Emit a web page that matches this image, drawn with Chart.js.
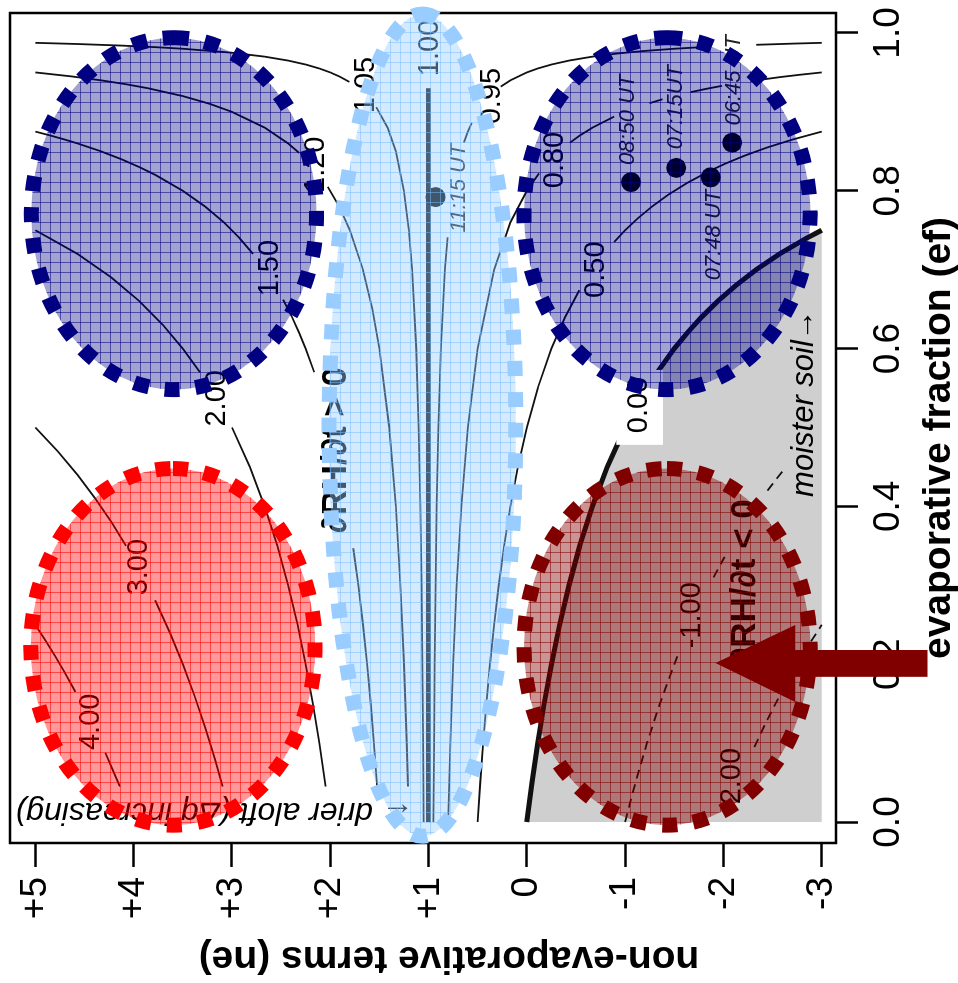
<!DOCTYPE html>
<html><head><meta charset="utf-8">
<script src="https://cdn.jsdelivr.net/npm/chart.js@4.4.1/dist/chart.umd.min.js"></script>
<style>
html,body{margin:0;padding:0;background:#fff;overflow:hidden;width:958px;height:983px;}
#wrap{position:absolute;left:0;top:0;width:983px;height:958px;transform-origin:0 0;transform:translate(0px,983px) rotate(-90deg);}
</style></head><body>
<div id="wrap"><canvas id="c" width="983" height="958"></canvas></div>
<script>
// ---------- axes ----------
const efTickValues = [0, 0.2, 0.4, 0.6, 0.8, 1.0];
const efTickLabels = ['0.0', '0.2', '0.4', '0.6', '0.8', '1.0'];
const neTickValues = [5, 4, 3, 2, 1, 0, -1, -2, -3];
const neTickLabels = ['+5', '+4', '+3', '+2', '+1', '0', '-1', '-2', '-3'];
const efTitle = 'evaporative fraction (ef)';
const neTitle = 'non-evaporative terms (ne)';

// ---------- contour lines: [ef, ne] pairs, null = label gap ----------
const contour_4_00 = [[0.25,5.0],[0.23,4.896],[0.21,4.797],[0.19,4.704],[0.165,4.593],null,[0.088,4.289],[0.07,4.226],[0.045,4.141]];
const contour_3_00 = [[0.5,5.0],[0.47,4.774],[0.44,4.571],[0.41,4.39],[0.38,4.226],[0.35,4.077],null,[0.281,3.782],[0.24,3.632],[0.2,3.5],[0.16,3.381],[0.12,3.273],[0.08,3.174],[0.045,3.094]];
const contour_2_00 = [[0.75,5.0],[0.72,4.571],[0.69,4.226],[0.66,3.941],[0.63,3.703],[0.6,3.5],[0.57,3.326],null,[0.5,3.0],[0.45,2.818],[0.4,2.667],[0.35,2.538],[0.3,2.429],[0.25,2.333],[0.2,2.25],[0.15,2.176],[0.1,2.111],[0.045,2.047]];
const contour_1_50 = [[0.875,5.0],[0.87,4.846],[0.865,4.704],[0.86,4.571],[0.85,4.333],[0.84,4.125],[0.83,3.941],[0.82,3.778],[0.8,3.5],[0.78,3.273],[0.76,3.083],[0.74,2.923],[0.72,2.786],null,[0.662,2.479],[0.64,2.389],[0.62,2.316],[0.6,2.25],[0.57,2.163],null,[0.347,1.766],[0.3,1.714],[0.25,1.667],[0.2,1.625],[0.15,1.588],[0.1,1.556],[0.045,1.524]];
const contour_1_20 = [[0.95,5.0],[0.945,4.636],[0.94,4.333],[0.935,4.077],[0.93,3.857],[0.92,3.5],[0.91,3.222],[0.9,3.0],[0.88,2.667],[0.86,2.429],[0.848,2.316],null,[0.805,2.026],[0.78,1.909],[0.75,1.8],[0.7,1.667],[0.65,1.571],[0.6,1.5],[0.5,1.4],[0.4,1.333],[0.3,1.286],[0.2,1.25],[0.1,1.222],[0.045,1.209]];
const contour_1_05 = [[0.9875,5.0],[0.986,4.571],[0.984,4.125],[0.982,3.778],[0.98,3.5],[0.975,3.0],[0.97,2.667],[0.965,2.429],[0.96,2.25],[0.955,2.111],[0.95,2.0],[0.945,1.909],[0.938,1.806],null,[0.906,1.532],[0.88,1.417],[0.85,1.333],[0.8,1.25],[0.75,1.2],[0.7,1.167],[0.6,1.125],[0.5,1.1],[0.4,1.083],[0.3,1.071],[0.2,1.063],[0.1,1.056],[0,1.05]];
const contour_1_00 = [[0.93,1.0],[0.5,1.0],[0,1.0]];
const contour_0_95 = [[0.9875,-3.0],[0.9865,-2.704],[0.985,-2.333],null,[0.982,-1.778],[0.98,-1.5],[0.977,-1.174],[0.974,-0.923],[0.97,-0.667],[0.965,-0.429],[0.96,-0.25],[0.955,-0.111],[0.95,0],[0.94,0.167],[0.932,0.265],null,[0.886,0.561],[0.875,0.6],[0.861,0.64],null,[0.741,0.807],[0.7,0.833],[0.6,0.875],[0.5,0.9],[0.4,0.917],[0.3,0.929],[0.2,0.938],[0.1,0.944],[0,0.95]];
const contour_0_80 = [[0.95,-3.0],[0.947,-2.774],[0.944,-2.571],[0.939,-2.279],null,[0.933,-1.985],[0.929,-1.817],[0.925,-1.667],null,[0.916,-1.381],[0.911,-1.247],null,[0.894,-0.887],[0.88,-0.667],[0.87,-0.538],[0.861,-0.439],null,[0.822,-0.124],[0.8,0],[0.76,0.167],[0.7,0.333],[0.6,0.5],[0.5,0.6],[0.4,0.667],[0.3,0.714],[0.2,0.75],[0.1,0.778],[0,0.8]];
const contour_0_50 = [[0.875,-3.0],[0.865,-2.704],[0.855,-2.448],[0.845,-2.226],[0.835,-2.03],[0.825,-1.857],[0.81,-1.632],[0.795,-1.439],[0.78,-1.273],[0.765,-1.128],[0.75,-1.0],[0.735,-0.887],null,[0.674,-0.534],[0.64,-0.389],[0.6,-0.25],[0.55,-0.111],[0.5,0],[0.45,0.091],[0.4,0.167],[0.35,0.231],[0.3,0.286],[0.25,0.333],[0.2,0.375],[0.15,0.412],[0.1,0.444],[0.05,0.474],[0,0.5]];
const contour_0_00 = [[0,0],[0.05,-0.053],[0.1,-0.111],[0.15,-0.176],[0.2,-0.25],[0.25,-0.333],[0.3,-0.429],[0.35,-0.538],[0.4,-0.667],[0.45,-0.818],[0.5,-1.0],null,[0.565,-1.299],[0.6,-1.5],[0.62,-1.632],[0.64,-1.778],[0.66,-1.941],[0.68,-2.125],[0.7,-2.333],[0.72,-2.571],[0.74,-2.846],[0.75,-3.0]];
const contour_m1_00 = [[0,-1.0],[0.05,-1.105],[0.1,-1.222],[0.15,-1.353],[0.2,-1.5],[0.21,-1.532],null,[0.31,-1.899],[0.336,-2.012],null,[0.42,-2.448],[0.435,-2.54],[0.45,-2.636]];
const contour_m2_00 = [[0.095,-2.315],[0.12,-2.409],[0.145,-2.509],[0.17,-2.614],[0.2,-2.75],[0.225,-2.871],[0.25,-3.0]];

// contour labels
const contourLabelText = ['4.00','3.00','2.00','1.50','1.20','1.05','1.00','0.95','0.80','0.50','0.00','-1.00','-2.00'];
const contourLabelEf   = [0.127, 0.323, 0.537, 0.702, 0.833, 0.934, 0.981, 0.920, 0.839, 0.700, 0.5285, 0.262, 0.052];
const contourLabelNe   = [4.439, 3.943, 3.155, 2.609, 2.144, 1.638, 0.99, 0.354, -0.283, -0.708, -1.143, -1.678, -2.083];
const zeroLabelBoxEf = [0.478, 0.573];
const zeroLabelBoxNe = [-0.91, -1.385];

// observations
const obsTimes = ['11:15 UT', '08:50 UT', '07:15UT', '07:48 UT', '06:45 UT'];
const obsEf = [0.792, 0.811, 0.829, 0.817, 0.861];
const obsNe = [0.93, -1.06, -1.52, -1.87, -2.09];
const obsLabelEf = [0.8035, 0.890, 0.906, 0.744, 0.940];
const obsLabelNe = [0.688, -1.031, -1.517, -1.901, -2.103];

// region annotations
const regionText = ['\u2202RH/\u2202t > 0', '\u2202RH/\u2202t < 0'];
const regionEf = [0.4715, 0.304];
const regionNe = [1.941, -2.224];
const moistText = 'moister soil\u2192';
const moistEf = 0.531, moistNe = -2.821;
const drierText = '\u2190 drier aloft (\u0394q increasing)';
const drierEf = 0.0127, drierNe = 3.175;

// highlight ellipses (centre and radii in data units)
const ellipseEf  = [0.771, 0.503, 0.771, 0.222, 0.222];
const ellipseNe  = [3.59, 1.062, -1.426, 3.60, -1.426];
const ellipseREf = [0.223, 0.521, 0.223, 0.226, 0.226];
const ellipseRNe = [1.451, 0.950, 1.456, 1.446, 1.456];

// big arrow outline (data units)
const arrowEf = [0.2015, 0.2497, 0.218, 0.218, 0.184, 0.184, 0.1521];
const arrowNe = [-1.92, -2.73, -2.73, -4.075, -4.075, -2.73, -2.73];

// ---------- styles ----------
const FONT = "'Liberation Sans', Arial, Helvetica, sans-serif";
const ellipseStyle = [
  {fill:'rgba(0,0,128,0.36)', grid:'rgba(0,0,128,0.55)', border:'#000080'},
  {fill:'rgba(153,204,255,0.42)', grid:'rgba(120,185,255,0.5)', border:'#99ccff'},
  {fill:'rgba(0,0,128,0.36)', grid:'rgba(0,0,128,0.55)', border:'#000080'},
  {fill:'rgba(255,0,0,0.4)', grid:'rgba(255,0,0,0.55)', border:'#ff0000'},
  {fill:'rgba(128,0,0,0.42)', grid:'rgba(128,0,0,0.55)', border:'#800000'}
];

function pts(arr){
  let lastX = 0;
  return arr.map(p => { if (p) { lastX = p[0]; return {x:p[0], y:p[1]}; } return {x:lastX, y:null}; });
}
function lineDs(arr, width, dash){
  return {data: pts(arr), borderColor:'#111', borderWidth: width, borderDash: dash || [],
          pointRadius:0, fill:false, tension:0, spanGaps:false, order:5};
}

const datasets = [
  {data: pts(contour_0_00.filter(Boolean)), borderWidth:0, pointRadius:0, fill:{value:-3},
   backgroundColor:'#cfcfcf', borderColor:'rgba(0,0,0,0)', order:10},
  lineDs(contour_4_00, 1.8), lineDs(contour_3_00, 1.8), lineDs(contour_2_00, 1.8),
  lineDs(contour_1_50, 1.8), lineDs(contour_1_20, 1.8), lineDs(contour_1_05, 1.8),
  lineDs(contour_1_00, 5), lineDs(contour_0_95, 1.8), lineDs(contour_0_80, 1.8),
  lineDs(contour_0_50, 1.8), lineDs(contour_0_00, 5),
  lineDs(contour_m1_00, 1.8, [9,6]), lineDs(contour_m2_00, 1.8, [9,6]),
  {data: obsEf.map((e,i)=>({x:e, y:obsNe[i]})), showLine:false, pointRadius:10,
   pointBackgroundColor:'#000', pointBorderWidth:0, order:0}
];

function gridPattern(ctx, color){
  const c = document.createElement('canvas'); c.width = 10; c.height = 10;
  const g = c.getContext('2d');
  g.strokeStyle = color; g.lineWidth = 1;
  g.beginPath(); g.moveTo(0,0.5); g.lineTo(10,0.5); g.moveTo(0.5,0); g.lineTo(0.5,10); g.stroke();
  return ctx.createPattern(c, 'repeat');
}

const overlay = {
  id:'overlay',
  afterDatasetsDraw(chart){
    const {ctx, chartArea:a} = chart;
    const xs = chart.scales.x, ys = chart.scales.y;
    const px = v => xs.getPixelForValue(v), py = v => ys.getPixelForValue(v);
    ctx.save();
    ctx.setLineDash([]);
    // white label box for 0.00
    const bx1 = px(zeroLabelBoxEf[0]), bx2 = px(zeroLabelBoxEf[1]);
    const by1 = py(zeroLabelBoxNe[0]), by2 = py(zeroLabelBoxNe[1]);
    ctx.fillStyle = '#fff';
    ctx.fillRect(Math.min(bx1,bx2), Math.min(by1,by2), Math.abs(bx2-bx1), Math.abs(by2-by1));
    // contour labels
    ctx.fillStyle = '#000'; ctx.textAlign = 'center'; ctx.textBaseline = 'middle';
    ctx.font = '29px ' + FONT;
    contourLabelText.forEach((t,i) => ctx.fillText(t, px(contourLabelEf[i]), py(contourLabelNe[i])));
    // observation time labels
    ctx.font = 'italic 22px ' + FONT; ctx.fillStyle = '#222';
    obsTimes.forEach((t,i) => ctx.fillText(t, px(obsLabelEf[i]), py(obsLabelNe[i])));
    // region labels
    ctx.font = 'bold 35px ' + FONT; ctx.fillStyle = '#000';
    regionText.forEach((t,i) => ctx.fillText(t, px(regionEf[i]), py(regionNe[i])));
    ctx.font = 'italic 31px ' + FONT;
    ctx.fillText(moistText, px(moistEf), py(moistNe));
    ctx.font = 'italic 32px ' + FONT;
    ctx.save();
    ctx.translate(px(drierEf), py(drierNe)); ctx.rotate(-Math.PI/2);
    ctx.fillText(drierText, 0, 0);
    ctx.restore();
    // plot frame
    ctx.strokeStyle = '#000'; ctx.lineWidth = 2.5;
    ctx.strokeRect(a.left, a.top, a.right - a.left, a.bottom - a.top);
    // ellipses
    ellipseEf.forEach((e,i) => {
      const cx = px(e), cy = py(ellipseNe[i]);
      const rx = Math.abs(px(e + ellipseREf[i]) - cx), ry = Math.abs(py(ellipseNe[i] + ellipseRNe[i]) - cy);
      const st = ellipseStyle[i];
      ctx.beginPath(); ctx.ellipse(cx, cy, rx, ry, 0, 0, Math.PI*2);
      ctx.fillStyle = st.fill; ctx.fill();
      ctx.fillStyle = gridPattern(ctx, st.grid); ctx.fill();
      ctx.setLineDash([15,16]); ctx.lineWidth = 15; ctx.lineCap = 'butt';
      ctx.strokeStyle = st.border; ctx.stroke();
      ctx.setLineDash([]);
    });
    // axis titles
    ctx.fillStyle = '#000'; ctx.font = 'bold 39px ' + FONT;
    ctx.textAlign = 'center'; ctx.textBaseline = 'alphabetic';
    ctx.fillText(efTitle, 545, 950);
    ctx.save(); ctx.translate(36, 449); ctx.rotate(-Math.PI/2);
    ctx.fillText(neTitle, 0, 0); ctx.restore();
    // arrow
    ctx.beginPath();
    arrowEf.forEach((e,i) => { const X = px(e), Y = py(arrowNe[i]); if (i) ctx.lineTo(X,Y); else ctx.moveTo(X,Y); });
    ctx.closePath(); ctx.fillStyle = '#800000'; ctx.fill();
    ctx.restore();
  }
};

new Chart(document.getElementById('c'), {
  type:'line',
  data:{datasets},
  options:{
    responsive:false, animation:false, devicePixelRatio:1,
    layout:{padding:{top:5, right:13, left:0, bottom:0}},
    plugins:{legend:{display:false}, tooltip:{enabled:false}},
    events:[],
    scales:{
      x:{type:'linear', position:'bottom', min:-0.0266, max:1.0253,
         border:{display:false},
         grid:{drawOnChartArea:false, drawTicks:true, tickLength:22, tickWidth:2.5, tickColor:'#000', color:'#000'},
         ticks:{autoSkip:false, maxRotation:0, minRotation:0, padding:9, color:'#000', font:{family:FONT, size:37},
                callback:v => { const i = efTickValues.indexOf(v); return i >= 0 ? efTickLabels[i] : ''; }},
         afterBuildTicks:s => { s.ticks = efTickValues.map(v => ({value:v})); },
         afterFit:s => { s.height = 122; s.paddingLeft = 0; s.paddingRight = 0; }},
      y:{type:'linear', position:'left', min:-3.145, max:5.258,
         border:{display:false},
         grid:{drawOnChartArea:false, drawTicks:true, tickLength:24, tickWidth:2.5, tickColor:'#000', color:'#000'},
         ticks:{autoSkip:false, padding:10, color:'#000', font:{family:FONT, size:37},
                callback:v => { const i = neTickValues.indexOf(v); return i >= 0 ? neTickLabels[i] : ''; }},
         afterBuildTicks:s => { s.ticks = neTickValues.map(v => ({value:v})); },
         afterFit:s => { s.width = 140; s.paddingTop = 0; s.paddingBottom = 0; }}
    }
  },
  plugins:[overlay]
});
</script></body></html>
